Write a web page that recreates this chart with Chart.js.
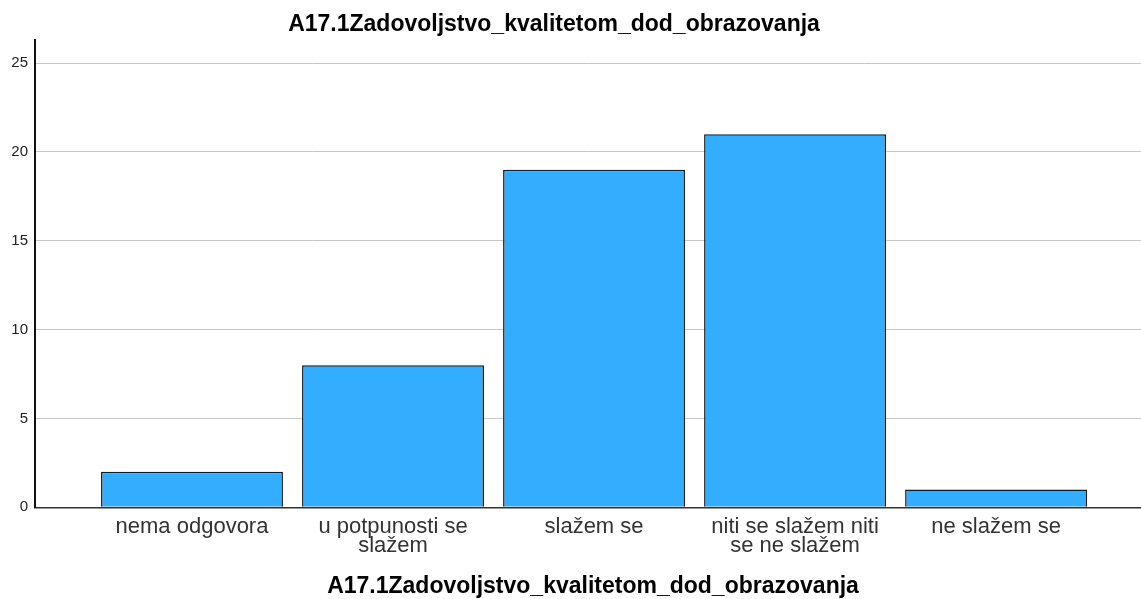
<!DOCTYPE html>
<html>
<head>
<meta charset="utf-8">
<script src="https://cdn.jsdelivr.net/npm/chart.js@4/dist/chart.umd.min.js"></script>
<style>
  html, body { margin: 0; padding: 0; background: #fff; }
  #wrap { width: 1141px; height: 599px; }
</style>
</head>
<body>
<div id="wrap"><canvas id="barChart"></canvas></div>
<script>
const chartTitle = 'A17.1Zadovoljstvo_kvalitetom_dod_obrazovanja';
const categories = [
    ['nema odgovora'],
    ['u potpunosti se', 'slažem'],
    ['slažem se'],
    ['niti se slažem niti', 'se ne slažem'],
    ['ne slažem se']
];
const counts = [2, 8, 19, 21, 1];
const yTicks = [0, 5, 10, 15, 20, 25];

// both titles are drawn by hand so they can sit where SPSS put them
const titlePlugin = {
    id: 'spssTitles',
    afterDraw(chart) {
        const ctx = chart.ctx;
        ctx.save();
        ctx.fillStyle = '#000';
        ctx.font = 'bold 23px "Liberation Sans", Arial, sans-serif';
        ctx.textAlign = 'center';
        ctx.textBaseline = 'alphabetic';
        ctx.fillText(chartTitle, 554, 31);
        ctx.fillText(chartTitle, 593, 593);
        ctx.restore();
    }
};

const ctx = document.getElementById('barChart').getContext('2d');
new Chart(ctx, {
    type: 'bar',
    data: {
        datasets: [{
            data: counts.map((v, i) => ({ x: i + 1, y: v })),
            backgroundColor: '#33adff',
            borderColor: '#1a1a1a',
            borderWidth: 1.5,
            categoryPercentage: 1,
            barPercentage: 0.905
        }]
    },
    options: {
        responsive: true,
        maintainAspectRatio: false,
        animation: false,
        layout: { padding: { top: 40, right: 0, bottom: 33, left: 0 } },
        scales: {
            x: {
                type: 'linear',
                offset: false,
                min: 0.219,
                max: 5.721,
                afterBuildTicks: scale => {
                    scale.ticks = categories.map((c, i) => ({ value: i + 1 }));
                },
                ticks: {
                    autoSkip: false,
                    maxRotation: 0,
                    padding: 10,
                    color: '#333',
                    font: { family: '"Liberation Sans", Arial, sans-serif', size: 22, lineHeight: 0.88 },
                    callback: (value) => categories[value - 1]
                },
                grid: { display: false, drawTicks: false },
                border: { color: '#333', width: 1.5 }
            },
            y: {
                min: 0,
                max: 26.3,
                afterBuildTicks: scale => {
                    scale.ticks = yTicks.map(v => ({ value: v }));
                },
                afterFit: scale => { scale.width = 35; },
                ticks: {
                    padding: 7,
                    color: '#222',
                    font: { family: '"Liberation Sans", Arial, sans-serif', size: 15 }
                },
                grid: { color: '#c8c8c8', lineWidth: 1, drawTicks: false },
                border: { color: '#111', width: 2 }
            }
        },
        plugins: {
            legend: { display: false },
            tooltip: { enabled: false }
        }
    },
    plugins: [titlePlugin]
});
</script>
</body>
</html>
